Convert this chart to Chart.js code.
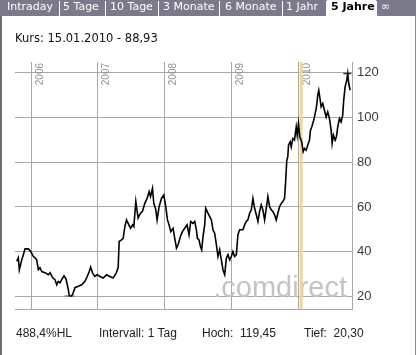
<!DOCTYPE html>
<html>
<head>
<meta charset="utf-8">
<script src="https://cdn.jsdelivr.net/npm/chart.js@4.4.1/dist/chart.umd.min.js"></script>
<style>
    body { margin: 0; background: #fff; }
    #box { position: relative; width: 417px; height: 355px; overflow: hidden; background: #fff; }
    #chart { position: absolute; left: 0; top: 0; }
    .tabs { position: absolute; left: 0; top: 0; width: 416px; height: 16px; background: #7b7a8b; }
    .tab { position: absolute; top: 0; height: 16px; line-height: 16px; color: #fff;
           font: 11px "DejaVu Sans", sans-serif; white-space: nowrap; }
    .sep { position: absolute; top: 1px; width: 1px; height: 15px; background: #fff; }
    .tab.active { background: #fff; color: #000; font-weight: bold; height: 18px; padding-left: 4px; }
    .frameL { position: absolute; left: 0; top: 16px; width: 2px; height: 339px; background: #6e6e6e; }
    .frameR { position: absolute; left: 415px; top: 16px; width: 1px; height: 339px; background: #8a8a8a; }
    .kurs { position: absolute; left: 15px; top: 31px; font: 11.5px "DejaVu Sans", sans-serif; color: #111; }
    .info { position: absolute; top: 326px; font: 12px "Liberation Sans", Arial, sans-serif; color: #222; white-space: pre; }
</style>
</head>
<body>
<div id="box">
    <canvas id="chart" width="417" height="355"></canvas>
    <div class="tabs">
        <span class="tab" style="left:7px">Intraday</span>
        <span class="sep" style="left:59px"></span>
        <span class="tab" style="left:63px">5 Tage</span>
        <span class="sep" style="left:105px"></span>
        <span class="tab" style="left:110px">10 Tage</span>
        <span class="sep" style="left:158px"></span>
        <span class="tab" style="left:163px">3 Monate</span>
        <span class="sep" style="left:219px"></span>
        <span class="tab" style="left:225px">6 Monate</span>
        <span class="sep" style="left:282px"></span>
        <span class="tab" style="left:286px">1 Jahr</span>
        <span class="sep" style="left:326px"></span>
        <span class="tab active" style="left:327px;width:45px">5 Jahre</span>
        <span class="sep" style="left:376px"></span>
        <span class="tab" style="left:381px">∞</span>
    </div>
    <div class="frameL"></div>
    <div class="frameR"></div>
    <div class="kurs">Kurs: 15.01.2010 - 88,93</div>
    <div class="info" style="left:16px">488,4%HL</div>
    <div class="info" style="left:99px">Intervall: 1 Tag</div>
    <div class="info" style="left:202px">Hoch:  119,45</div>
    <div class="info" style="left:304px">Tief:  20,30</div>
</div>
<script>
// Zeitpunkte (Dezimaljahr) und Schlusskurse
const zeit = [
    2005.787, 2005.810, 2005.825, 2005.861, 2005.885, 2005.910, 2005.960, 2005.996,
    2006.034, 2006.060, 2006.085, 2006.109, 2006.134, 2006.160, 2006.209, 2006.258,
    2006.284, 2006.324, 2006.358, 2006.384, 2006.407, 2006.433, 2006.458, 2006.493,
    2006.522, 2006.542, 2006.557, 2006.572, 2006.607, 2006.631, 2006.657, 2006.706,
    2006.757, 2006.806, 2006.840, 2006.870, 2006.891, 2006.921, 2006.955, 2006.990,
    2007.030, 2007.079, 2007.130, 2007.179, 2007.228, 2007.273, 2007.303, 2007.318,
    2007.354, 2007.378, 2007.403, 2007.428, 2007.452, 2007.488, 2007.518, 2007.537,
    2007.567, 2007.601, 2007.637, 2007.667, 2007.701, 2007.736, 2007.766, 2007.787,
    2007.816, 2007.836, 2007.866, 2007.885, 2007.915, 2007.951, 2007.985, 2008.015,
    2008.040, 2008.064, 2008.090, 2008.124, 2008.149, 2008.175, 2008.199, 2008.234,
    2008.264, 2008.299, 2008.333, 2008.363, 2008.388, 2008.422, 2008.448, 2008.473,
    2008.488, 2008.512, 2008.533, 2008.552, 2008.572, 2008.597, 2008.612, 2008.646,
    2008.672, 2008.697, 2008.721, 2008.746, 2008.772, 2008.796, 2008.821, 2008.846,
    2008.870, 2008.896, 2008.921, 2008.945, 2008.970, 2008.996, 2009.019, 2009.045,
    2009.070, 2009.094, 2009.119, 2009.169, 2009.194, 2009.219, 2009.243, 2009.269,
    2009.294, 2009.318, 2009.343, 2009.369, 2009.393, 2009.418, 2009.443, 2009.467,
    2009.493, 2009.518, 2009.542, 2009.567, 2009.593, 2009.616, 2009.642, 2009.667,
    2009.691, 2009.716, 2009.742, 2009.766, 2009.791, 2009.806, 2009.825, 2009.840,
    2009.851, 2009.876, 2009.891, 2009.915, 2009.940, 2009.966, 2009.981, 2010.000,
    2010.019, 2010.049, 2010.070, 2010.090, 2010.115, 2010.139, 2010.164, 2010.179,
    2010.199, 2010.228, 2010.249, 2010.269, 2010.288, 2010.303, 2010.318, 2010.339,
    2010.363, 2010.388, 2010.413, 2010.437, 2010.463, 2010.488, 2010.503, 2010.522,
    2010.548, 2010.567, 2010.587, 2010.612, 2010.637, 2010.661, 2010.676, 2010.697,
    2010.721, 2010.736, 2010.751, 2010.772
];
const kurs = [
    35.7, 37.3, 32.0, 36.4, 38.7, 41.3, 41.3, 40.1,
    37.9, 37.3, 36.4, 32.0, 32.9, 31.2, 30.7, 29.8,
    30.7, 28.4, 27.6, 25.3, 26.8, 26.2, 27.6, 29.3,
    28.0, 25.3, 23.1, 20.4, 20.3, 21.8, 24.0, 24.6,
    25.3, 26.8, 29.0, 31.2, 33.2, 30.5, 29.0, 29.8,
    29.0, 28.3, 29.8, 29.0, 28.3, 30.5, 33.0, 44.6,
    45.3, 46.0, 51.2, 54.2, 52.7, 50.5, 52.0, 51.2,
    62.4, 55.0, 57.2, 58.0, 61.6, 63.8, 66.8, 64.6,
    68.3, 61.6, 58.7, 54.2, 60.1, 63.8, 65.3, 60.1,
    54.2, 52.0, 49.0, 50.5, 46.0, 41.6, 43.1, 46.8,
    49.0, 50.5, 52.0, 47.6, 53.5, 52.7, 53.5, 49.8,
    46.0, 45.3, 42.4, 40.9, 46.8, 52.0, 59.4, 57.2,
    55.7, 54.2, 49.8, 48.3, 43.1, 37.9, 40.9, 36.4,
    32.0, 29.8, 37.2, 38.7, 36.4, 37.9, 40.1, 37.9,
    38.7, 47.6, 49.8, 49.8, 52.0, 53.5, 54.2, 57.2,
    58.7, 63.8, 59.4, 56.5, 53.5, 58.0, 60.9, 58.7,
    54.2, 59.4, 64.6, 60.1, 58.7, 58.0, 56.5, 54.2,
    57.2, 60.1, 61.6, 62.4, 63.8, 70.5, 80.9, 82.4,
    87.6, 89.0, 86.8, 90.5, 89.8, 95.7, 92.0, 97.2,
    91.3, 88.9, 84.6, 86.1, 85.3, 87.6, 89.8, 94.2,
    95.7, 98.7, 101.6, 104.6, 109.8, 112.0, 109.0, 104.6,
    106.1, 103.1, 100.1, 102.4, 99.4, 94.2, 88.3, 92.0,
    89.8, 91.3, 95.7, 99.4, 97.9, 100.9, 107.6, 113.5,
    116.4, 119.45, 115.0, 112.0
];
const jahre = [2006, 2007, 2008, 2009, 2010];
const kursTicks = [20, 40, 60, 80, 100, 120];
const cursorDatum = 2010.04;
const hoch = 119.45;
const tief = 20.30;

const xMin = 2005.76, xMax = 2010.80;
const yMin = 14.5, yMax = 124.6;
const gridColor = '#a8a8a8';

const jahrLabels = {
    id: 'jahrLabels',
    beforeDatasetsDraw(chart) {
        const ctx = chart.ctx;
        const x = chart.scales.x;
        const top = chart.chartArea.top;
        ctx.save();
        // Wasserzeichen
        ctx.font = '29px "Liberation Sans", Arial, sans-serif';
        ctx.fillStyle = '#c4c4c4';
        ctx.textAlign = 'right';
        ctx.textBaseline = 'alphabetic';
        ctx.fillText('.comdirect', chart.chartArea.right - 5, chart.chartArea.bottom - 12);
        // Jahreszahlen senkrecht
        ctx.font = '10px "Liberation Sans", Arial, sans-serif';
        ctx.fillStyle = '#8f8f8f';
        jahre.forEach(function (j) {
            const px = x.getPixelForValue(j);
            ctx.save();
            ctx.translate(px + 11.5, top + 1);
            ctx.rotate(-Math.PI / 2);
            ctx.textAlign = 'right';
            ctx.fillText(String(j), 0, 0);
            ctx.restore();
        });
        ctx.restore();
    }
};

const ctx = document.getElementById('chart');
const config = {
    type: 'line',
    data: {
        datasets: [{
            data: zeit.map((t, i) => ({x: t, y: kurs[i]})),
            borderColor: '#000',
            borderWidth: 1.6,
            pointRadius: 0,
            tension: 0,
            order: 1
        }, {
            data: [{x: cursorDatum, y: yMin}, {x: cursorDatum, y: yMax}],
            borderColor: '#f2d78f',
            borderWidth: 3,
            pointRadius: 0,
            order: 3
        }, {
            data: [{x: 2006.50, y: tief}, {x: 2006.65, y: tief}],
            borderColor: '#8a8a8a',
            borderWidth: 1.5,
            pointRadius: 0,
            order: 2
        }, {
            data: [{x: 2010.67, y: hoch}, {x: 2010.79, y: hoch}],
            borderColor: '#333',
            borderWidth: 1.5,
            pointRadius: 0,
            order: 2
        }]
    },
    options: {
        responsive: false,
        animation: false,
        layout: {
            padding: {left: 15, top: 62, right: 15, bottom: 46}
        },
        plugins: {
            legend: {display: false},
            tooltip: {enabled: false}
        },
        scales: {
            x: {
                type: 'linear',
                min: xMin,
                max: xMax,
                afterBuildTicks: function (s) { s.ticks = jahre.map(v => ({value: v})); },
                afterFit: function (s) { s.height = 0; },
                ticks: {display: false},
                grid: {color: gridColor, drawTicks: false},
                border: {display: true, color: gridColor}
            },
            y: {
                position: 'right',
                min: yMin,
                max: yMax,
                afterBuildTicks: function (s) { s.ticks = kursTicks.map(v => ({value: v})); },
                afterFit: function (s) { s.width = 50; },
                ticks: {
                    color: '#3a3a3a',
                    padding: 5,
                    font: {family: '"Liberation Sans", Arial, sans-serif', size: 13}
                },
                grid: {color: gridColor, drawTicks: false},
                border: {display: true, color: gridColor}
            }
        }
    },
    plugins: [jahrLabels]
};
const myChart = new Chart(ctx, config);
</script>
</body>
</html>
